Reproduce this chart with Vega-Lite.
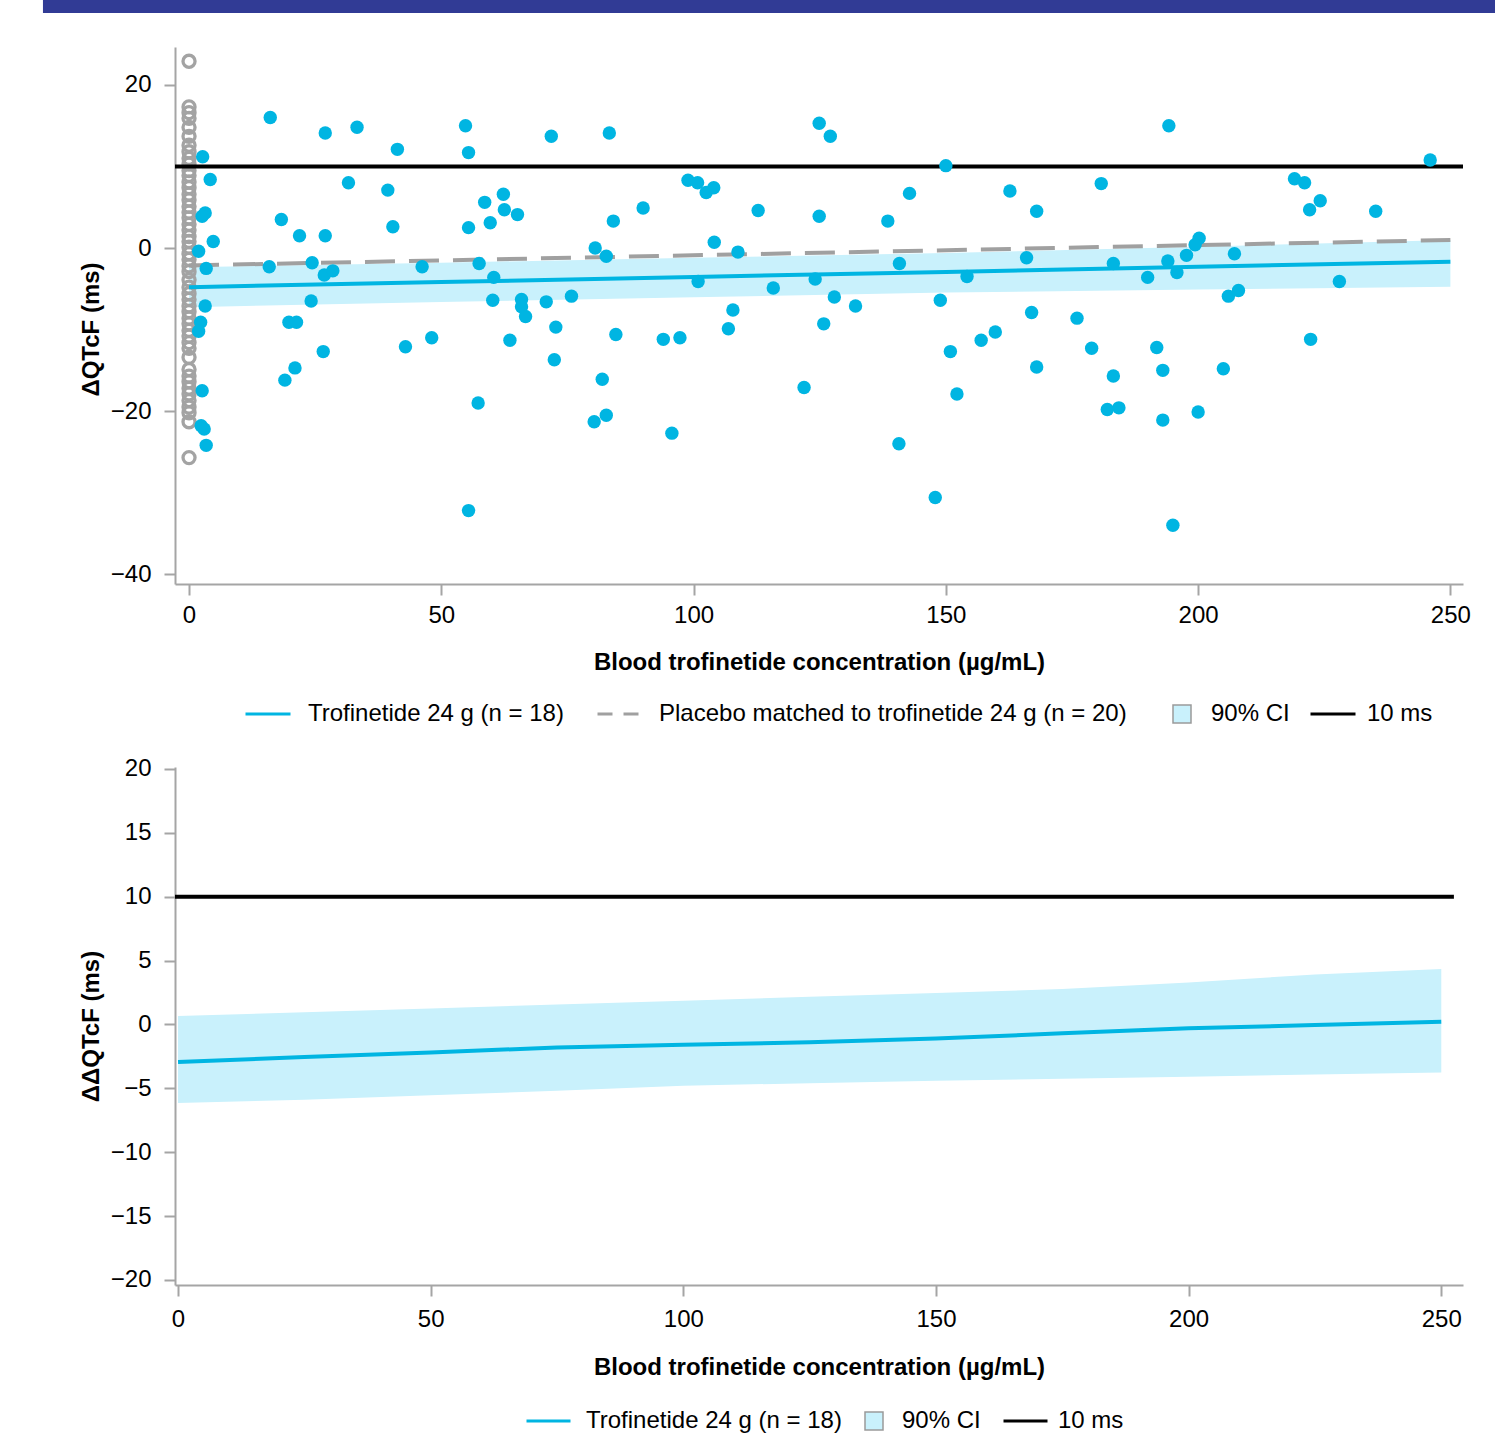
{
  "$schema": "https://vega.github.io/schema/vega-lite/v6.json",
  "padding": {"left": 42, "top": 0, "right": 0, "bottom": 0},
  "background": "white",
  "config": {
    "font": "Liberation Sans, Arial, sans-serif",
    "view": {"stroke": null},
    "axis": {"domainColor": "#a5a5a5", "domainWidth": 2, "tickColor": "#a5a5a5", "tickWidth": 2, "tickSize": 11, "labelFontSize": 24, "labelColor": "#000000", "titleFontSize": 24, "titleFontWeight": "bold", "titleColor": "#000000", "grid": false, "labelFont": "Liberation Sans, Arial, sans-serif", "titleFont": "Liberation Sans, Arial, sans-serif"},
    "axisX": {"labelPadding": 8, "titlePadding": 23, "labelFlush": false},
    "axisY": {"labelPadding": 13, "titlePadding": 7},
    "legend": {"labelFontSize": 24, "labelFont": "Liberation Sans, Arial, sans-serif", "labelColor": "#000000", "labelLimit": 0, "orient": "none", "direction": "horizontal", "clipHeight": 32, "padding": 0}
  },
  "datasets": {
    "tro": [
      {"conc":2.7,"dqtcf":11.2},{"conc":4.2,"dqtcf":8.4},{"conc":3.2,"dqtcf":4.3},{"conc":2.6,"dqtcf":3.9},{"conc":4.8,"dqtcf":0.8},{"conc":1.9,"dqtcf":-0.4},{"conc":3.4,"dqtcf":-2.5},{"conc":3.2,"dqtcf":-7.1},{"conc":2.3,"dqtcf":-9.1},{"conc":1.9,"dqtcf":-10.2},{"conc":2.6,"dqtcf":-17.5},{"conc":2.4,"dqtcf":-21.8},{"conc":3.0,"dqtcf":-22.2},{"conc":3.4,"dqtcf":-24.2},
      {"conc":16.1,"dqtcf":16.0},{"conc":27.0,"dqtcf":14.1},{"conc":33.3,"dqtcf":14.8},{"conc":54.8,"dqtcf":15.0},{"conc":55.4,"dqtcf":11.7},{"conc":41.3,"dqtcf":12.1},{"conc":71.8,"dqtcf":13.7},{"conc":31.6,"dqtcf":8.0},{"conc":39.4,"dqtcf":7.1},{"conc":18.3,"dqtcf":3.5},{"conc":21.9,"dqtcf":1.5},{"conc":27.0,"dqtcf":1.5},{"conc":40.4,"dqtcf":2.6},{"conc":55.4,"dqtcf":2.5},{"conc":58.6,"dqtcf":5.6},{"conc":62.3,"dqtcf":6.6},{"conc":62.5,"dqtcf":4.7},{"conc":65.1,"dqtcf":4.1},{"conc":59.7,"dqtcf":3.1},{"conc":15.9,"dqtcf":-2.3},{"conc":24.4,"dqtcf":-1.8},{"conc":26.8,"dqtcf":-3.3},{"conc":28.5,"dqtcf":-2.8},{"conc":46.2,"dqtcf":-2.3},{"conc":57.5,"dqtcf":-1.9},{"conc":60.4,"dqtcf":-3.6},{"conc":24.2,"dqtcf":-6.5},{"conc":60.2,"dqtcf":-6.4},{"conc":65.9,"dqtcf":-6.3},{"conc":65.9,"dqtcf":-7.2},{"conc":66.7,"dqtcf":-8.4},{"conc":70.8,"dqtcf":-6.6},{"conc":19.8,"dqtcf":-9.1},{"conc":21.3,"dqtcf":-9.1},{"conc":72.7,"dqtcf":-9.7},{"conc":26.6,"dqtcf":-12.7},{"conc":42.9,"dqtcf":-12.1},{"conc":48.1,"dqtcf":-11.0},{"conc":63.6,"dqtcf":-11.3},{"conc":72.4,"dqtcf":-13.7},{"conc":21.0,"dqtcf":-14.7},{"conc":19.0,"dqtcf":-16.2},{"conc":57.3,"dqtcf":-19.0},{"conc":55.4,"dqtcf":-32.2},
      {"conc":83.3,"dqtcf":14.1},{"conc":124.9,"dqtcf":15.3},{"conc":127.1,"dqtcf":13.7},{"conc":98.9,"dqtcf":8.3},{"conc":100.8,"dqtcf":8.0},{"conc":102.5,"dqtcf":6.8},{"conc":104.0,"dqtcf":7.4},{"conc":90.0,"dqtcf":4.9},{"conc":84.1,"dqtcf":3.3},{"conc":112.8,"dqtcf":4.6},{"conc":124.9,"dqtcf":3.9},{"conc":138.5,"dqtcf":3.3},{"conc":80.5,"dqtcf":0.0},{"conc":82.7,"dqtcf":-1.0},{"conc":104.1,"dqtcf":0.7},{"conc":108.8,"dqtcf":-0.5},{"conc":140.8,"dqtcf":-1.9},{"conc":100.9,"dqtcf":-4.1},{"conc":115.8,"dqtcf":-4.9},{"conc":124.1,"dqtcf":-3.8},{"conc":127.9,"dqtcf":-6.0},{"conc":132.1,"dqtcf":-7.1},{"conc":75.8,"dqtcf":-5.9},{"conc":84.6,"dqtcf":-10.6},{"conc":94.0,"dqtcf":-11.2},{"conc":97.3,"dqtcf":-11.0},{"conc":107.8,"dqtcf":-7.6},{"conc":106.9,"dqtcf":-9.9},{"conc":125.8,"dqtcf":-9.3},{"conc":81.9,"dqtcf":-16.1},{"conc":80.3,"dqtcf":-21.3},{"conc":82.7,"dqtcf":-20.5},{"conc":95.7,"dqtcf":-22.7},{"conc":121.9,"dqtcf":-17.1},{"conc":140.7,"dqtcf":-24.0},
      {"conc":194.2,"dqtcf":15.0},{"conc":150.0,"dqtcf":10.1},{"conc":142.8,"dqtcf":6.7},{"conc":162.7,"dqtcf":7.0},{"conc":168.0,"dqtcf":4.5},{"conc":180.8,"dqtcf":7.9},{"conc":200.2,"dqtcf":1.2},{"conc":199.4,"dqtcf":0.4},{"conc":197.7,"dqtcf":-0.9},{"conc":207.2,"dqtcf":-0.7},{"conc":166.0,"dqtcf":-1.2},{"conc":183.2,"dqtcf":-1.9},{"conc":194.0,"dqtcf":-1.6},{"conc":195.8,"dqtcf":-3.0},{"conc":154.2,"dqtcf":-3.5},{"conc":190.0,"dqtcf":-3.6},{"conc":206.0,"dqtcf":-5.9},{"conc":208.0,"dqtcf":-5.2},{"conc":148.9,"dqtcf":-6.4},{"conc":167.0,"dqtcf":-7.9},{"conc":176.0,"dqtcf":-8.6},{"conc":159.8,"dqtcf":-10.3},{"conc":157.0,"dqtcf":-11.3},{"conc":150.9,"dqtcf":-12.7},{"conc":178.9,"dqtcf":-12.3},{"conc":191.8,"dqtcf":-12.2},{"conc":168.0,"dqtcf":-14.6},{"conc":183.2,"dqtcf":-15.7},{"conc":193.0,"dqtcf":-15.0},{"conc":205.0,"dqtcf":-14.8},{"conc":152.2,"dqtcf":-17.9},{"conc":182.0,"dqtcf":-19.8},{"conc":184.3,"dqtcf":-19.6},{"conc":193.0,"dqtcf":-21.1},{"conc":200.0,"dqtcf":-20.1},{"conc":147.9,"dqtcf":-30.6},{"conc":195.0,"dqtcf":-34.0},
      {"conc":246.0,"dqtcf":10.8},{"conc":219.1,"dqtcf":8.5},{"conc":221.1,"dqtcf":8.0},{"conc":224.2,"dqtcf":5.8},{"conc":222.1,"dqtcf":4.7},{"conc":235.2,"dqtcf":4.5},{"conc":228.0,"dqtcf":-4.1},{"conc":222.3,"dqtcf":-11.2}
    ],
    "pbo": [
      {"conc":0,"dqtcf":22.9},{"conc":0,"dqtcf":17.3},{"conc":0,"dqtcf":16.6},{"conc":0,"dqtcf":15.9},{"conc":0,"dqtcf":14.8},{"conc":0,"dqtcf":13.7},{"conc":0,"dqtcf":12.6},{"conc":0,"dqtcf":11.8},{"conc":0,"dqtcf":11.0},{"conc":0,"dqtcf":10.3},{"conc":0,"dqtcf":9.5},{"conc":0,"dqtcf":8.9},{"conc":0,"dqtcf":8.1},{"conc":0,"dqtcf":7.4},{"conc":0,"dqtcf":6.6},{"conc":0,"dqtcf":5.9},{"conc":0,"dqtcf":5.1},{"conc":0,"dqtcf":4.4},{"conc":0,"dqtcf":3.7},{"conc":0,"dqtcf":2.9},{"conc":0,"dqtcf":2.2},{"conc":0,"dqtcf":1.4},{"conc":0,"dqtcf":0.8},{"conc":0,"dqtcf":0.1},{"conc":0,"dqtcf":-0.7},{"conc":0,"dqtcf":-1.4},{"conc":0,"dqtcf":-2.2},{"conc":0,"dqtcf":-2.9},{"conc":0,"dqtcf":-3.9},{"conc":0,"dqtcf":-4.8},{"conc":0,"dqtcf":-5.6},{"conc":0,"dqtcf":-6.3},{"conc":0,"dqtcf":-7.1},{"conc":0,"dqtcf":-7.8},{"conc":0,"dqtcf":-8.6},{"conc":0,"dqtcf":-9.3},{"conc":0,"dqtcf":-10.1},{"conc":0,"dqtcf":-10.8},{"conc":0,"dqtcf":-11.6},{"conc":0,"dqtcf":-12.3},{"conc":0,"dqtcf":-13.4},{"conc":0,"dqtcf":-14.9},{"conc":0,"dqtcf":-15.7},{"conc":0,"dqtcf":-16.4},{"conc":0,"dqtcf":-17.2},{"conc":0,"dqtcf":-17.9},{"conc":0,"dqtcf":-18.7},{"conc":0,"dqtcf":-19.5},{"conc":0,"dqtcf":-20.2},{"conc":0,"dqtcf":-21.3},{"conc":0,"dqtcf":-25.7}
    ],
    "fitTop": [
      {"conc":0,"fit":-4.80,"lower":-7.25,"upper":-2.35},
      {"conc":50,"fit":-4.18,"lower":-6.62,"upper":-1.80},
      {"conc":100,"fit":-3.55,"lower":-6.05,"upper":-1.20},
      {"conc":150,"fit":-2.93,"lower":-5.45,"upper":-0.60},
      {"conc":200,"fit":-2.30,"lower":-5.10,"upper":0.15},
      {"conc":250,"fit":-1.68,"lower":-4.75,"upper":0.98}
    ],
    "pboFit": [
      {"conc":0,"fit":-2.14},
      {"conc":250,"fit":0.98}
    ],
    "fitBottom": [
      {"conc":0,"fit":-2.95,"lower":-6.16,"upper":0.65},
      {"conc":25,"fit":-2.55,"lower":-5.90,"upper":0.95},
      {"conc":50,"fit":-2.20,"lower":-5.55,"upper":1.25},
      {"conc":75,"fit":-1.80,"lower":-5.20,"upper":1.55},
      {"conc":100,"fit":-1.60,"lower":-4.80,"upper":1.86},
      {"conc":125,"fit":-1.40,"lower":-4.60,"upper":2.16},
      {"conc":150,"fit":-1.10,"lower":-4.42,"upper":2.46},
      {"conc":175,"fit":-0.70,"lower":-4.25,"upper":2.77},
      {"conc":200,"fit":-0.30,"lower":-4.10,"upper":3.29},
      {"conc":225,"fit":-0.05,"lower":-3.92,"upper":3.90},
      {"conc":250,"fit":0.20,"lower":-3.76,"upper":4.33}
    ]
  },
  "resolve": {
    "scale": {"color": "independent", "fill": "independent", "stroke": "independent", "opacity": "independent"},
    "legend": {"color": "independent", "fill": "independent", "stroke": "independent", "opacity": "independent"}
  },
  "spacing": 26,
  "vconcat": [
    {
      "width": 1288,
      "height": 537,
      "layer": [
        {
          "data": {"values": [{"part": "header"}]},
          "mark": {"type": "rect", "color": "#313b95", "clip": false},
          "encoding": {
            "x": {"datum": -28.95, "type": "quantitative", "scale": {"domain": [-2.78, 252.5], "nice": false, "zero": false}},
            "x2": {"datum": 259.2},
            "y": {"datum": 28.83, "type": "quantitative", "scale": {"domain": [-41.2, 24.65], "nice": false, "zero": false}},
            "y2": {"datum": 30.4}
          }
        },
        {
          "data": {"name": "fitTop"},
          "mark": {"type": "area", "opacity": 1},
          "encoding": {
            "x": {"field": "conc", "type": "quantitative", "scale": {"domain": [-2.78, 252.5], "nice": false, "zero": false}, "axis": {"values": [0, 50, 100, 150, 200, 250], "title": "Blood trofinetide concentration (µg/mL)"}},
            "y": {"field": "lower", "type": "quantitative", "scale": {"domain": [-41.2, 24.65], "nice": false, "zero": false}, "axis": {"values": [-40, -20, 0, 20], "title": "ΔQTcF (ms)", "titleY": 282}},
            "y2": {"field": "upper"},
            "fill": {
              "datum": "90% CI", "type": "nominal",
              "scale": {"domain": ["90% CI"], "range": ["#c9f1fc"]},
              "legend": {"legendX": 995, "legendY": 651, "title": null, "symbolType": "square", "symbolSize": 324, "symbolStrokeColor": "#9a9a9a", "symbolStrokeWidth": 1.5, "labelOffset": 17}
            }
          }
        },
        {
          "data": {"name": "pbo"},
          "mark": {"type": "point", "filled": false, "size": 145, "strokeWidth": 3.3, "color": "#a3a3a3", "opacity": 1},
          "encoding": {
            "x": {"field": "conc", "type": "quantitative"},
            "y": {"field": "dqtcf", "type": "quantitative"}
          }
        },
        {
          "data": {"values": [{"ref": "10 ms"}]},
          "mark": {"type": "rule", "strokeWidth": 4},
          "encoding": {
            "y": {"datum": 10, "type": "quantitative"},
            "color": {
              "datum": "10 ms", "type": "nominal",
              "scale": {"domain": ["10 ms"], "range": ["#000000"]},
              "legend": {"legendX": 1134, "legendY": 651, "title": null, "symbolType": "stroke", "symbolSize": 2025, "symbolStrokeWidth": 3, "labelOffset": 10}
            }
          }
        },
        {
          "data": {"name": "pboFit"},
          "mark": {"type": "line", "strokeWidth": 4, "strokeDash": [30, 14], "color": "#a0a0a0"},
          "encoding": {
            "x": {"field": "conc", "type": "quantitative"},
            "y": {"field": "fit", "type": "quantitative"},
            "opacity": {
              "datum": "Placebo matched to trofinetide 24 g (n = 20)", "type": "ordinal",
              "scale": {"domain": ["Placebo matched to trofinetide 24 g (n = 20)"], "range": [1]},
              "legend": {"legendX": 421, "legendY": 651, "title": null, "symbolType": "stroke", "symbolSize": 2025, "symbolStrokeWidth": 3, "symbolStrokeColor": "#a0a0a0", "symbolDash": [15, 11], "labelOffset": 15}
            }
          }
        },
        {
          "data": {"name": "fitTop"},
          "mark": {"type": "line", "strokeWidth": 4},
          "encoding": {
            "x": {"field": "conc", "type": "quantitative"},
            "y": {"field": "fit", "type": "quantitative"},
            "stroke": {
              "datum": "Trofinetide 24 g (n = 18)", "type": "nominal",
              "scale": {"domain": ["Trofinetide 24 g (n = 18)"], "range": ["#00b5e2"]},
              "legend": {"legendX": 69, "legendY": 651, "title": null, "symbolType": "stroke", "symbolSize": 2025, "symbolStrokeWidth": 3, "labelOffset": 16}
            }
          }
        },
        {
          "data": {"name": "tro"},
          "mark": {"type": "circle", "size": 180, "opacity": 1, "color": "#00b5e2"},
          "encoding": {
            "x": {"field": "conc", "type": "quantitative"},
            "y": {"field": "dqtcf", "type": "quantitative"}
          }
        }
      ]
    },
    {
      "width": 1288,
      "height": 518,
      "layer": [
        {
          "data": {"name": "fitBottom"},
          "mark": {"type": "area", "opacity": 1},
          "encoding": {
            "x": {"field": "conc", "type": "quantitative", "scale": {"domain": [-0.6, 254.3], "nice": false, "zero": false}, "axis": {"values": [0, 50, 100, 150, 200, 250], "title": "Blood trofinetide concentration (µg/mL)", "labelPadding": 11, "titlePadding": 24}},
            "y": {"field": "lower", "type": "quantitative", "scale": {"domain": [-20.4, 20.15], "nice": false, "zero": false}, "axis": {"values": [-20, -15, -10, -5, 0, 5, 10, 15, 20], "title": "ΔΔQTcF (ms)"}},
            "y2": {"field": "upper"},
            "fill": {
              "datum": "90% CI", "type": "nominal",
              "scale": {"domain": ["90% CI"], "range": ["#c9f1fc"]},
              "legend": {"legendX": 687, "legendY": 638, "title": null, "symbolType": "square", "symbolSize": 324, "symbolStrokeColor": "#9a9a9a", "symbolStrokeWidth": 1.5, "labelOffset": 16}
            }
          }
        },
        {
          "data": {"values": [{"ref": "10 ms"}]},
          "mark": {"type": "rule", "strokeWidth": 4},
          "encoding": {
            "x": {"datum": -0.6, "type": "quantitative"},
            "x2": {"datum": 252.5},
            "y": {"datum": 10, "type": "quantitative"},
            "color": {
              "datum": "10 ms", "type": "nominal",
              "scale": {"domain": ["10 ms"], "range": ["#000000"]},
              "legend": {"legendX": 827, "legendY": 638, "title": null, "symbolType": "stroke", "symbolSize": 1936, "symbolStrokeWidth": 3, "labelOffset": 9}
            }
          }
        },
        {
          "data": {"name": "fitBottom"},
          "mark": {"type": "line", "strokeWidth": 4},
          "encoding": {
            "x": {"field": "conc", "type": "quantitative"},
            "y": {"field": "fit", "type": "quantitative"},
            "stroke": {
              "datum": "Trofinetide 24 g (n = 18)", "type": "nominal",
              "scale": {"domain": ["Trofinetide 24 g (n = 18)"], "range": ["#00b5e2"]},
              "legend": {"legendX": 350, "legendY": 638, "title": null, "symbolType": "stroke", "symbolSize": 1936, "symbolStrokeWidth": 3, "labelOffset": 14}
            }
          }
        }
      ]
    }
  ]
}
